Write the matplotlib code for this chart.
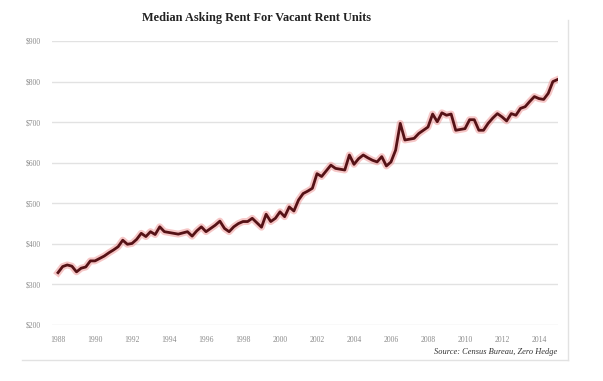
import numpy as np
import matplotlib.pyplot as plt
from matplotlib.lines import Line2D

# quarterly median asking rent, 1988 Q1 .. 2015 Q1
rent = [329, 344, 348, 345, 331, 340, 343, 358, 358, 364,
        370, 378, 385, 393, 409, 399, 401, 411, 426, 418,
        430, 423, 442, 430, 428, 426, 424, 427, 430, 419,
        432, 442, 430, 438, 446, 456, 438, 430, 442, 450,
        455, 455, 463, 452, 441, 473, 455, 463, 479, 467,
        491, 481, 508, 524, 530, 537, 573, 566, 580, 594,
        586, 584, 582, 619, 596, 610, 619, 612, 606, 602,
        615, 592, 602, 631, 697, 656, 658, 660, 672, 680,
        688, 720, 701, 723, 717, 720, 680, 682, 684, 706,
        706, 680, 680, 697, 710, 721, 713, 703, 721, 717,
        734, 738, 751, 763, 758, 756, 771, 800, 805]
start_year = 1988
years = start_year + np.arange(len(rent)) / 4.0

x_ticks = list(range(1988, 2015, 2))
y_ticks = [200, 300, 400, 500, 600, 700, 800, 900]
y_labels = ['$%d' % v for v in y_ticks]

title = 'Median Asking Rent For Vacant Rent Units'
source = 'Source: Census Bureau, Zero Hedge'

serif = ['Liberation Serif', 'DejaVu Serif']

fig = plt.figure(figsize=(6.03, 3.81), dpi=100)
ax = fig.add_axes([52/603, 1-325/381, 506/603, 284/381])

ax.set_xlim(1988 - 6/18.5, 1988 + 506/18.5 - 6/18.5)
ax.set_ylim(200, 900)

for v in y_ticks:
    ax.axhline(v, color='#e2e2e2', lw=1.0, zorder=1)

# glow under the line, then the line itself
ax.plot(years, rent, color='#ee9090', lw=5, alpha=0.5, zorder=2,
        solid_joinstyle='round')
ax.plot(years, rent, color='#561216', lw=2.0, zorder=3,
        solid_joinstyle='round')

ax.set_xticks(x_ticks)
ax.set_xticklabels([str(y) for y in x_ticks])
ax.set_yticks(y_ticks)
ax.set_yticklabels(y_labels)
ax.tick_params(length=0, labelsize=5.5, labelcolor='#8a8a8a', pad=8)
for lab in ax.get_xticklabels() + ax.get_yticklabels():
    lab.set_family(serif)
ax.tick_params(axis='y', pad=8)
for s in ax.spines.values():
    s.set_visible(False)

fig.text(257/603, 1-18/381, title, ha='center', va='center',
         fontsize=8.8, fontweight='bold', family=serif, color='#222222')
fig.text(557/603, 1-352/381, source, ha='right', va='center',
         fontsize=6, style='italic', family=serif, color='#333333')

# faint frame of the original screenshot
fig.add_artist(Line2D([568/603, 568/603], [1-20/381, 1-360/381],
                      transform=fig.transFigure, color='#e2e2e2', lw=1))
fig.add_artist(Line2D([22/603, 568/603], [1-360/381, 1-360/381],
                      transform=fig.transFigure, color='#e2e2e2', lw=1))

fig.savefig('out.png', dpi=100)
